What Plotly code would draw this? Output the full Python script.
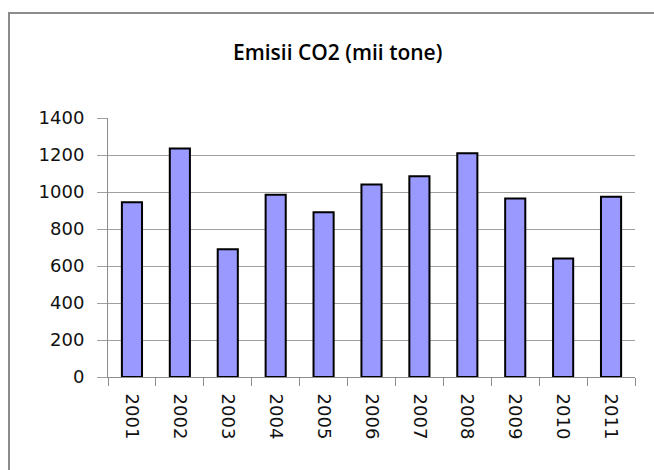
import plotly.graph_objects as go

years = ["2001", "2002", "2003", "2004", "2005", "2006", "2007", "2008", "2009", "2010", "2011"]
emisii = [945, 1235, 690, 985, 890, 1040, 1085, 1210, 965, 640, 975]
title_text = "Emisii CO2 (mii tone)"

W, H = 654, 470
L, R, T, B = 108, 19, 118, 93
pw, ph = W - L - R, H - T - B

def px_x(px):
    return (px - L) / pw

def px_y(py):
    return (H - B - py) / ph

fig = go.Figure()
fig.add_trace(go.Bar(
    x=years, y=emisii,
    marker=dict(color="#9999FF", line=dict(color="#000000", width=2)),
))

fig.update_layout(
    width=W, height=H,
    margin=dict(l=L, r=R, t=T, b=B, pad=0),
    paper_bgcolor="white", plot_bgcolor="white",
    bargap=0.58,
    showlegend=False,
    font=dict(family="DejaVu Sans", size=18, color="#000000"),
    xaxis=dict(
        type="category",
        showgrid=False,
        showline=True, linecolor="#8c8c8c", linewidth=1,
        ticks="outside", tickson="boundaries", ticklen=8, tickcolor="#8c8c8c",
        tickangle=90,
        tickfont=dict(family="DejaVu Sans", size=18, color="#111111"),
        ticklabelstandoff=12,
    ),
    yaxis=dict(
        range=[0, 1400],
        tickvals=[0, 200, 400, 600, 800, 1000, 1200, 1400],
        showgrid=True, gridcolor="#a0a0a0", gridwidth=1,
        showline=True, linecolor="#8c8c8c", linewidth=1,
        zeroline=False,
        ticks="outside", ticklen=10, tickcolor="#a0a0a0",
        tickfont=dict(family="DejaVu Sans", size=18, color="#111111"),
        ticklabelstandoff=9,
    ),
    shapes=[dict(
        type="rect", xref="paper", yref="paper",
        x0=px_x(9), x1=px_x(700), y0=px_y(520), y1=px_y(13),
        line=dict(color="#8c8c8c", width=2), fillcolor="rgba(0,0,0,0)",
        layer="below",
    )],
    annotations=[dict(
        text=title_text, xref="paper", yref="paper",
        x=px_x(337), y=px_y(52), xanchor="center", yanchor="middle",
        showarrow=False,
        font=dict(family="Open Sans", size=21, color="#000000", weight=600),
    )],
)

fig.write_html(
    "out.html",
    config={"displayModeBar": False},
    post_script="document.body.style.margin='0';document.body.style.overflow='hidden';",
)
